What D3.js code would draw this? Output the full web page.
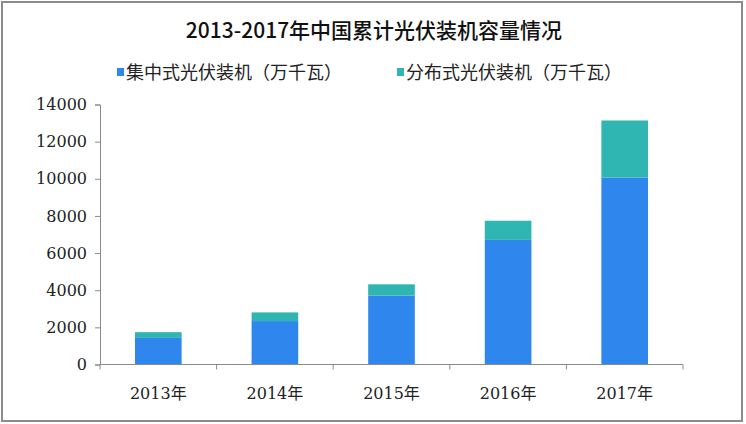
<!DOCTYPE html>
<html>
<head>
<meta charset="utf-8">
<script src="https://cdn.jsdelivr.net/npm/d3@7"></script>
<style>
  html, body { margin: 0; padding: 0; background: #fff; }
  svg { display: block; }
</style>
</head>
<body>
<svg id="chart" width="746" height="424"></svg>
<script>
const title = "2013-2017年中国累计光伏装机容量情况";
const categories = ["2013年", "2014年", "2015年", "2016年", "2017年"];
const seriesNames = ["集中式光伏装机（万千瓦）", "分布式光伏装机（万千瓦）"];
const centralized = [1432, 2338, 3712, 6710, 10059];
const distributed = [310, 467, 606, 1032, 3080];
const yTicks = [0, 2000, 4000, 6000, 8000, 10000, 12000, 14000];
const colors = ["#2F87EE", "#30B6B2"];

const svg = d3.select("#chart");
const W = 746, H = 424;
const margin = { left: 100, right: 63, top: 104.5, bottom: 59.5 };

svg.append("rect").attr("x", 0).attr("y", 0).attr("width", W).attr("height", H).attr("fill", "#fff");
svg.append("rect").attr("x", 2).attr("y", 2).attr("width", 740).attr("height", 419)
  .attr("fill", "none").attr("stroke", "#8c8c8c").attr("stroke-width", 2);

const x = d3.scaleBand().domain(categories)
  .range([margin.left, W - margin.right]).paddingInner(0.6).paddingOuter(0.3);
const y = d3.scaleLinear().domain([0, 14000]).range([H - margin.bottom, margin.top]);

const data = categories.map((c, i) => ({ cat: c, a: centralized[i], b: distributed[i] }));
const stack = d3.stack().keys(["a", "b"])(data);

svg.append("g").selectAll("g").data(stack).join("g")
  .attr("fill", (d, i) => colors[i])
  .selectAll("rect").data(d => d).join("rect")
  .attr("x", d => x(d.data.cat))
  .attr("width", x.bandwidth())
  .attr("y", d => y(d[1]))
  .attr("height", d => y(d[0]) - y(d[1]));

const numFont = "'DejaVu Serif', 'Noto Sans CJK SC', serif";

const yAxis = svg.append("g").attr("transform", `translate(${margin.left},0)`)
  .call(d3.axisLeft(y).tickValues(yTicks).tickFormat(d3.format("d")).tickSize(5).tickPadding(8));
yAxis.selectAll("text").attr("font-family", numFont).attr("font-size", 16).attr("fill", "#222");
yAxis.selectAll("line, path").attr("stroke", "#8a8a8a");

const xAxis = svg.append("g").attr("transform", `translate(0,${H - margin.bottom})`);
xAxis.append("line").attr("x1", margin.left).attr("x2", W - margin.right)
  .attr("y1", 0).attr("y2", 0).attr("stroke", "#8a8a8a");
const step = x.step();
const boundaries = [0].concat(categories.map((c, i) => i + 1));
xAxis.selectAll("line.tick").data(boundaries).join("line").attr("class", "tick")
  .attr("x1", i => margin.left + i * step).attr("x2", i => margin.left + i * step)
  .attr("y1", 0).attr("y2", 5).attr("stroke", "#8a8a8a");
xAxis.selectAll("text").data(categories).join("text")
  .attr("x", d => x(d) + x.bandwidth() / 2)
  .attr("y", 34)
  .attr("text-anchor", "middle")
  .attr("font-family", numFont).attr("font-size", 16).attr("fill", "#222")
  .text(d => d);

svg.append("text").attr("x", 374).attr("y", 38).attr("text-anchor", "middle")
  .attr("font-family", "'Noto Sans CJK SC', sans-serif").attr("font-size", 21)
  .attr("font-weight", 500).attr("fill", "#111").text(title);

const legendX = [117, 397];
const lg = svg.append("g").selectAll("g").data(seriesNames).join("g")
  .attr("transform", (d, i) => `translate(${legendX[i]},0)`);
lg.append("rect").attr("x", 0).attr("y", 68).attr("width", 7).attr("height", 8)
  .attr("fill", (d, i) => colors[i]);
lg.append("text").attr("x", 9).attr("y", 79)
  .attr("font-family", "'Noto Sans CJK SC', sans-serif").attr("font-size", 18)
  .attr("fill", "#222").text(d => d);
</script>
</body>
</html>
